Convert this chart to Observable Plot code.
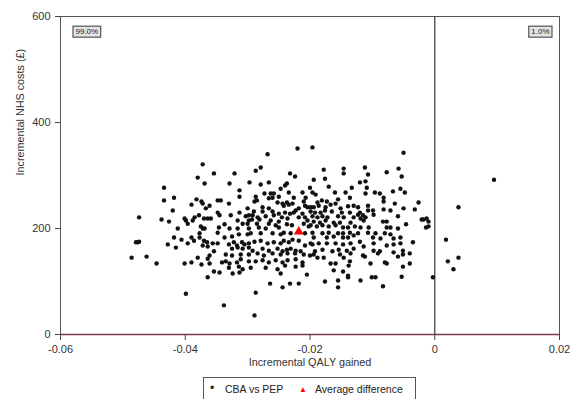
<!DOCTYPE html>
<html>
<head>
<meta charset="utf-8">
<script src="https://cdn.jsdelivr.net/npm/d3@7"></script>
<script src="https://cdn.jsdelivr.net/npm/@observablehq/plot@0.6"></script>
<style>
  body { margin: 0; background: #fff; font-family: "Liberation Sans", Arial, sans-serif; }
  #wrap { position: relative; width: 573px; height: 399px; overflow: hidden; }
  #legend { position: absolute; left: 203px; top: 377px; width: 211px; height: 24px;
    border: 1px solid #555; font-size: 10.5px; color: #222; white-space: nowrap; }
  #legend span { position: absolute; top: 5px; line-height: 12px; }
</style>
</head>
<body>
<div id="wrap"></div>
<script>
// Series: CBA vs PEP (incremental QALY, incremental NHS cost £)
const cbaVsPep = [
  [-0.0372,321],[-0.0354,304],[-0.0380,296],[-0.0369,285],[-0.0434,277],[-0.0434,253],[-0.0418,258],
  [-0.0382,255],[-0.0374,251],[-0.0372,247],[-0.0390,245],[-0.0367,238],[-0.0361,243],[-0.0420,234],
  [-0.0378,225],[-0.0385,221],[-0.0401,219],[-0.0388,215],[-0.0370,219],[-0.0364,219],[-0.0359,219],
  [-0.0474,221],[-0.0438,217],[-0.0426,213],[-0.0399,215],[-0.0396,209],[-0.0375,204],[-0.0369,200],
  [-0.0412,200],[-0.0372,200],
  [-0.0479,174],[-0.0476,174],[-0.0474,175],[-0.0486,145],[-0.0462,147],[-0.0446,134],[-0.0428,170],
  [-0.0418,183],[-0.0415,164],[-0.0406,179],[-0.0396,172],[-0.0390,183],[-0.0386,177],[-0.0377,191],
  [-0.0377,183],[-0.0370,177],[-0.0372,168],[-0.0365,174],[-0.0364,166],[-0.0356,172],[-0.0354,157],
  [-0.0361,149],[-0.0364,143],[-0.0380,145],[-0.0390,136],[-0.0401,134],[-0.0374,132],[-0.0361,134],
  [-0.0354,119],[-0.0364,108],[-0.0399,77],
  [-0.0220,351],[-0.0268,340],[-0.0279,315],[-0.0287,309],[-0.0321,304],[-0.0232,304],[-0.0224,298],
  [-0.0329,285],[-0.0297,287],[-0.0279,283],[-0.0266,287],[-0.0237,285],[-0.0240,281],[-0.0247,275],
  [-0.0313,272],[-0.0212,268],[-0.0200,277],[-0.0273,266],[-0.0263,266],[-0.0258,266],[-0.0234,268],
  [-0.0313,260],[-0.0287,260],[-0.0266,257],[-0.0260,258],[-0.0250,260],[-0.0226,258],[-0.0207,258],
  [-0.0348,253],[-0.0343,253],[-0.0330,247],[-0.0289,251],[-0.0285,253],[-0.0252,249],[-0.0244,247],
  [-0.0237,249],[-0.0242,243],[-0.0234,245],[-0.0228,247],[-0.0210,251],[-0.0208,243],[-0.0300,238],
  [-0.0276,240],[-0.0266,238],[-0.0223,234],[-0.0218,238],[-0.0204,240],[-0.0199,232],[-0.0348,230],
  [-0.0313,230],[-0.0290,232],[-0.0276,232],[-0.0260,232],[-0.0250,228],[-0.0240,230],[-0.0232,228],
  [-0.0226,230],[-0.0212,228],[-0.0345,225],[-0.0327,225],[-0.0303,223],[-0.0298,225],[-0.0292,225],
  [-0.0284,221],[-0.0271,223],[-0.0258,225],[-0.0245,221],[-0.0236,219],[-0.0218,221],[-0.0208,221],
  [-0.0316,215],[-0.0298,215],[-0.0293,217],[-0.0281,217],[-0.0263,215],[-0.0250,213],[-0.0204,215],
  [-0.0337,208],[-0.0308,209],[-0.0300,209],[-0.0285,209],[-0.0266,209],[-0.0255,206],[-0.0237,208],
  [-0.0229,206],[-0.0210,209],[-0.0202,204],[-0.0346,202],[-0.0329,200],[-0.0316,200],[-0.0298,200],
  [-0.0282,202],[-0.0271,200],[-0.0250,202],
  [-0.0196,353],[-0.0050,343],[-0.0178,311],[-0.0146,313],[-0.0146,304],[-0.0112,315],[-0.0107,302],
  [-0.0077,306],[-0.0058,313],[-0.0053,298],[-0.0194,292],[-0.0176,294],[-0.0120,287],[-0.0111,289],
  [-0.0170,279],[-0.0133,277],[-0.0109,277],[-0.0055,275],[-0.0048,268],[-0.0196,268],[-0.0191,264],
  [-0.0160,268],[-0.0143,268],[-0.0111,266],[-0.0096,268],[-0.0088,266],[-0.0067,270],[-0.0082,258],
  [-0.0188,249],[-0.0181,253],[-0.0173,251],[-0.0155,255],[-0.0136,258],[-0.0199,240],[-0.0194,240],
  [-0.0186,243],[-0.0175,240],[-0.0167,245],[-0.0159,247],[-0.0151,238],[-0.0139,242],[-0.0130,243],
  [-0.0123,240],[-0.0107,243],[-0.0082,251],[-0.0064,247],[-0.0107,234],[-0.0099,234],[-0.0082,236],
  [-0.0071,234],[-0.0050,238],[-0.0192,230],[-0.0183,230],[-0.0176,234],[-0.0165,232],[-0.0149,230],
  [-0.0136,230],[-0.0123,226],[-0.0120,230],[-0.0115,225],[-0.0098,226],[-0.0059,223],[-0.0196,223],
  [-0.0188,221],[-0.0180,223],[-0.0172,221],[-0.0155,223],[-0.0146,221],[-0.0130,221],[-0.0119,219],
  [-0.0111,221],[-0.0194,213],[-0.0184,211],[-0.0175,215],[-0.0162,211],[-0.0152,211],[-0.0135,211],
  [-0.0114,215],[-0.0083,213],[-0.0077,213],[-0.0046,208],[-0.0199,206],[-0.0189,204],[-0.0180,206],
  [-0.0170,204],[-0.0159,206],[-0.0147,202],[-0.0139,202],[-0.0128,204],[-0.0119,202],[-0.0106,202],
  [-0.0077,202],[-0.0071,202],[-0.0059,200],
  [0.0095,292],[0.0038,240],[-0.0026,249],[-0.0032,236],[-0.0021,217],[-0.0018,217],[-0.0013,219],
  [-0.0010,213],[-0.0010,204],[-0.0014,202],
  [0.0038,145],[0.0021,138],[0.0018,179],[0.0030,123],[-0.0003,108],[-0.0035,174],[-0.0040,153],
  [-0.0040,134],
  [-0.0348,192],[-0.0337,183],[-0.0325,185],[-0.0314,189],[-0.0300,189],[-0.0295,191],[-0.0279,191],
  [-0.0260,191],[-0.0247,189],[-0.0242,192],[-0.0231,191],[-0.0208,191],[-0.0348,172],[-0.0330,170],
  [-0.0322,174],[-0.0317,168],[-0.0309,174],[-0.0305,170],[-0.0298,172],[-0.0289,175],[-0.0279,177],
  [-0.0268,172],[-0.0258,174],[-0.0247,172],[-0.0242,177],[-0.0234,174],[-0.0228,179],[-0.0218,177],
  [-0.0208,168],[-0.0199,172],[-0.0325,162],[-0.0316,164],[-0.0308,162],[-0.0298,164],[-0.0292,158],
  [-0.0276,162],[-0.0266,158],[-0.0252,162],[-0.0244,157],[-0.0237,160],[-0.0231,162],[-0.0223,158],
  [-0.0215,157],[-0.0335,151],[-0.0325,149],[-0.0311,151],[-0.0298,151],[-0.0284,153],[-0.0274,149],
  [-0.0260,153],[-0.0247,151],[-0.0236,153],[-0.0224,153],[-0.0210,151],[-0.0200,149],[-0.0341,136],
  [-0.0335,138],[-0.0329,134],[-0.0317,136],[-0.0311,142],[-0.0298,138],[-0.0287,138],[-0.0276,140],
  [-0.0266,136],[-0.0255,140],[-0.0244,136],[-0.0236,140],[-0.0223,142],[-0.0212,136],[-0.0330,126],
  [-0.0314,128],[-0.0308,123],[-0.0295,126],[-0.0271,126],[-0.0252,123],[-0.0240,130],[-0.0223,128],
  [-0.0212,130],[-0.0345,117],[-0.0324,115],[-0.0313,117],[-0.0247,115],[-0.0205,113],[-0.0264,96],
  [-0.0232,96],[-0.0218,96],[-0.0244,89],[-0.0287,79],[-0.0338,55],[-0.0289,36],
  [-0.0196,192],[-0.0180,191],[-0.0170,192],[-0.0155,191],[-0.0147,191],[-0.0136,192],[-0.0123,191],
  [-0.0107,192],[-0.0095,191],[-0.0080,191],[-0.0071,189],[-0.0055,183],[-0.0194,183],[-0.0173,183],
  [-0.0162,185],[-0.0147,183],[-0.0139,183],[-0.0130,187],[-0.0099,183],[-0.0087,181],[-0.0066,181],
  [-0.0196,170],[-0.0186,172],[-0.0173,172],[-0.0159,172],[-0.0147,170],[-0.0135,172],[-0.0120,175],
  [-0.0098,172],[-0.0077,168],[-0.0066,170],[-0.0055,172],[-0.0192,157],[-0.0180,160],[-0.0164,157],
  [-0.0154,160],[-0.0141,158],[-0.0130,162],[-0.0114,166],[-0.0098,158],[-0.0088,157],[-0.0066,155],
  [-0.0051,158],[-0.0194,151],[-0.0188,145],[-0.0178,145],[-0.0152,151],[-0.0146,145],[-0.0135,153],
  [-0.0115,149],[-0.0112,147],[-0.0091,153],[-0.0059,147],[-0.0051,151],[-0.0167,134],[-0.0159,134],
  [-0.0136,138],[-0.0138,130],[-0.0103,134],[-0.0080,136],[-0.0077,134],[-0.0051,128],[-0.0162,121],
  [-0.0147,119],[-0.0139,111],[-0.0139,108],[-0.0101,108],[-0.0095,108],[-0.0053,109],[-0.0176,100],
  [-0.0155,102],[-0.0119,102],[-0.0155,89],[-0.0083,91]
];
// Average difference (triangle)
const averageDifference = [[-0.0218, 194]];

const xTicks = [-0.06, -0.04, -0.02, 0, 0.02];
const xTickLabels = ["-0.06", "-0.04", "-0.02", "0", "0.02"];
const yTicks = [0, 200, 400, 600];
const xTitle = "Incremental QALY gained";
const yTitle = "Incremental NHS costs (£)";
const probLeft = ["99.0%"];
const probRight = ["1.0%"];
const legendLabels = ["CBA vs PEP", "Average difference"];

const chart = Plot.plot({
  width: 573,
  height: 372,
  marginLeft: 60,
  marginRight: 14,
  marginTop: 16,
  marginBottom: 38,
  style: { fontFamily: "Liberation Sans, Arial, sans-serif", fontSize: "11px", color: "#333", background: "#fff" },
  x: { domain: [-0.06, 0.02] },
  y: { domain: [0, 600] },
  marks: [
    Plot.frame({ stroke: "#555" }),
    Plot.ruleX([0], { stroke: "#444", strokeWidth: 1.3 }),
    Plot.ruleY([0], { stroke: "#7b3a4a", strokeWidth: 1.6 }),
    Plot.axisX({ ticks: xTicks, tickFormat: d => xTickLabels[xTicks.indexOf(d)], tickSize: 6, tickPadding: 5, label: null, stroke: "#444" }),
    Plot.axisY({ ticks: yTicks, tickSize: 5, tickPadding: 5, label: null, stroke: "#444" }),
    Plot.text([xTitle], { frameAnchor: "bottom", dy: 31, fontSize: 10.8, fill: "#333" }),
    Plot.text([yTitle], { frameAnchor: "left", dx: -40, rotate: -90, fontSize: 10.8, fill: "#333" }),
    Plot.dot(cbaVsPep, { x: d => d[0], y: d => d[1], r: 2.2, fill: "#111", stroke: null }),
    Plot.dot(averageDifference, { x: d => d[0], y: d => d[1], symbol: "triangle", r: 3.6, fill: "#ff0000", stroke: null }),
    Plot.text(probLeft, { frameAnchor: "top-left", dx: 15, dy: 12, fontSize: 8, fill: "#222", className: "pct" }),
    Plot.text(probRight, { frameAnchor: "top-right", dx: -10, dy: 12, fontSize: 8, fill: "#222", className: "pct" })
  ]
});

const wrap = document.getElementById("wrap");
wrap.appendChild(chart);

// boxes behind the probability labels
chart.querySelectorAll("g.pct text").forEach(t => {
  const b = t.getBBox();
  const r = document.createElementNS("http://www.w3.org/2000/svg", "rect");
  r.setAttribute("x", b.x - 2.5);
  r.setAttribute("y", b.y - 1);
  r.setAttribute("width", b.width + 5);
  r.setAttribute("height", b.height + 2);
  r.setAttribute("fill", "#e4e4e4");
  r.setAttribute("stroke", "#555");
  r.setAttribute("stroke-width", "1.2");
  const tr = t.getAttribute("transform");
  if (tr) r.setAttribute("transform", tr);
  t.parentNode.insertBefore(r, t);
});

// legend below the chart
const legend = document.createElement("div");
legend.id = "legend";
legend.innerHTML =
  '<span style="left:6px;font-size:12px;top:4px">\u2022</span>' +
  '<span style="left:21px">' + legendLabels[0] + '</span>' +
  '<span style="left:95px;color:#ff0000;font-size:8px;top:6px">\u25B2</span>' +
  '<span style="left:111px">' + legendLabels[1] + '</span>';
wrap.appendChild(legend);
</script>
</body>
</html>
